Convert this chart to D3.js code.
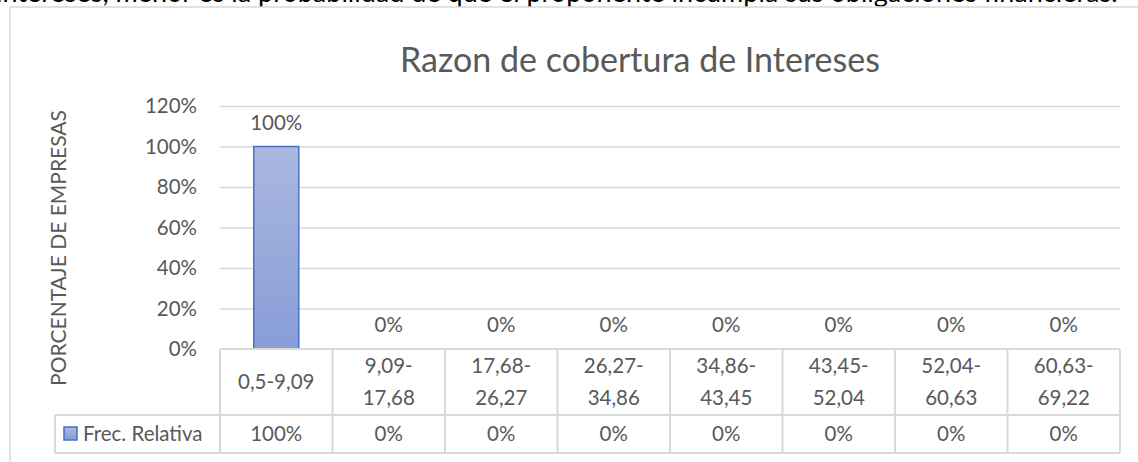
<!DOCTYPE html>
<html>
<head>
<meta charset="utf-8">
<script src="https://cdn.jsdelivr.net/npm/d3@7"></script>
<style>
  body { margin: 0; background: #fff; }
  svg { display: block; font-family: Lato, sans-serif; }
</style>
</head>
<body>
<script>
// data
var categories = ["0,5-9,09", "9,09-17,68", "17,68-26,27", "26,27-34,86",
                  "34,86-43,45", "43,45-52,04", "52,04-60,63", "60,63-69,22"];
var values = [1, 0, 0, 0, 0, 0, 0, 0];
var yTicks = [0, 0.2, 0.4, 0.6, 0.8, 1.0, 1.2];
var seriesName = "Frec. Relativa";
var chartTitle = "Razon de cobertura de Intereses";
var yTitle = "PORCENTAJE DE EMPRESAS";
var topText = "intereses, menor es la probabilidad de que el proponente incumpla sus obligaciones financieras.";

var W = 1138, H = 462;
var plot = {left: 220, right: 1120, top: 106, bottom: 349};
var rowCat = 66, rowLeg = 38, legLeft = 55;
var grey = "#595959", line = "#D9D9D9";

var svg = d3.select("body").append("svg")
    .attr("width", W)
    .attr("height", H);

// bar gradient
var grad = svg.append("defs").append("linearGradient")
    .attr("id", "barFill")
    .attr("x1", 0).attr("y1", 0).attr("x2", 0).attr("y2", 1);
grad.append("stop").attr("offset", "0%").attr("stop-color", "#AAB8DF");
grad.append("stop").attr("offset", "100%").attr("stop-color", "#889DD8");

// paragraph text cut at top of page
svg.append("text")
    .attr("x", -4)
    .attr("y", 2)
    .style("font-size", "27px")
    .style("fill", "#000")
    .text(topText);

// chart frame
svg.append("rect")
    .attr("x", 10).attr("y", 7)
    .attr("width", W + 20).attr("height", H + 20)
    .attr("fill", "none")
    .attr("stroke", line)
    .attr("stroke-width", 1.5);

// scales
var x = d3.scaleBand()
    .domain(categories)
    .range([plot.left, plot.right])
    .paddingInner(0).paddingOuter(0);

var y = d3.scaleLinear()
    .domain([0, 1.2])
    .range([plot.bottom, plot.top]);

var pct = d3.format(".0%");

// gridlines
svg.append("g")
    .attr("transform", "translate(" + plot.left + ",0)")
    .call(d3.axisLeft(y).tickValues(yTicks.slice(1)).tickSize(-(plot.right - plot.left)).tickFormat(""))
    .call(function(g) { g.select(".domain").remove(); })
    .selectAll("line")
    .attr("stroke", line)
    .attr("stroke-width", 1.5);

// y axis labels
svg.append("g")
    .attr("transform", "translate(" + (plot.left - 23) + ",0)")
    .call(d3.axisLeft(y).tickValues(yTicks).tickSize(0).tickFormat(pct))
    .call(function(g) { g.select(".domain").remove(); })
    .selectAll("text")
    .attr("x", 0)
    .style("font-family", "Lato, sans-serif")
    .style("font-size", "20.5px")
    .style("fill", grey);

// title
svg.append("text")
    .attr("x", 640)
    .attr("y", 72)
    .attr("text-anchor", "middle")
    .style("font-size", "34px")
    .style("fill", grey)
    .text(chartTitle);

// y axis title
svg.append("text")
    .attr("transform", "translate(66," + 248 + ") rotate(-90)")
    .attr("text-anchor", "middle")
    .style("font-size", "21px")
    .style("fill", grey)
    .text(yTitle);

// bars
var bw = x.bandwidth() * 0.4;
svg.append("g").selectAll("rect")
    .data(values)
    .enter().append("rect")
    .attr("x", function(d, i) { return x(categories[i]) + (x.bandwidth() - bw) / 2; })
    .attr("y", function(d) { return y(d); })
    .attr("width", bw)
    .attr("height", function(d) { return y(0) - y(d); })
    .attr("fill", "url(#barFill)")
    .attr("stroke", "#4472C4")
    .attr("stroke-width", 1.5)
    .style("display", function(d) { return d > 0 ? null : "none"; });

// data labels
svg.append("g").selectAll("text")
    .data(values)
    .enter().append("text")
    .attr("x", function(d, i) { return x(categories[i]) + x.bandwidth() / 2; })
    .attr("y", function(d) { return y(d) - 24; })
    .attr("dy", "0.35em")
    .attr("text-anchor", "middle")
    .style("font-size", "20.5px")
    .style("fill", grey)
    .text(function(d) { return pct(d); });

// data table
var tTop = plot.bottom, tMid = tTop + rowCat, tBot = tMid + rowLeg;
var table = svg.append("g")
    .attr("stroke", line)
    .attr("stroke-width", 2)
    .attr("fill", "none");

table.append("line").attr("x1", plot.left).attr("x2", plot.right).attr("y1", tTop).attr("y2", tTop);
table.append("line").attr("x1", legLeft).attr("x2", plot.right).attr("y1", tMid).attr("y2", tMid);
table.append("line").attr("x1", legLeft).attr("x2", plot.right).attr("y1", tBot).attr("y2", tBot);
table.append("line").attr("x1", legLeft).attr("x2", legLeft).attr("y1", tMid).attr("y2", tBot);
table.selectAll(".vline")
    .data(categories.concat(["end"]))
    .enter().append("line")
    .attr("class", "vline")
    .attr("x1", function(d, i) { return i < categories.length ? x(d) : plot.right; })
    .attr("x2", function(d, i) { return i < categories.length ? x(d) : plot.right; })
    .attr("y1", tTop)
    .attr("y2", tBot);

// category labels (wrapped after the hyphen when long)
var catText = svg.append("g").selectAll("text")
    .data(categories)
    .enter().append("text")
    .attr("x", function(d) { return x(d) + x.bandwidth() / 2; })
    .attr("y", tTop + rowCat / 2)
    .attr("text-anchor", "middle")
    .style("font-size", "20.5px")
    .style("fill", grey);

catText.each(function(d) {
  var t = d3.select(this);
  var parts = d.length > 9 ? [d.slice(0, d.indexOf("-") + 1), d.slice(d.indexOf("-") + 1)] : [d];
  parts.forEach(function(p, j) {
    t.append("tspan")
      .attr("x", x(d) + x.bandwidth() / 2)
      .attr("dy", j === 0 ? (parts.length > 1 ? "-0.42em" : "0.35em") : "1.55em")
      .text(p);
  });
});

// legend row values
svg.append("g").selectAll("text")
    .data(values)
    .enter().append("text")
    .attr("x", function(d, i) { return x(categories[i]) + x.bandwidth() / 2; })
    .attr("y", tMid + rowLeg / 2)
    .attr("dy", "0.35em")
    .attr("text-anchor", "middle")
    .style("font-size", "20.5px")
    .style("fill", grey)
    .text(function(d) { return pct(d); });

// legend key
svg.append("rect")
    .attr("x", 64).attr("y", tMid + 12)
    .attr("width", 13).attr("height", 13)
    .attr("fill", "url(#barFill)")
    .attr("stroke", "#4472C4")
    .attr("stroke-width", 1.5);

svg.append("text")
    .attr("x", 83)
    .attr("y", tMid + rowLeg / 2)
    .attr("dy", "0.35em")
    .style("font-size", "20.5px")
    .style("fill", grey)
    .text(seriesName);
</script>
</body>
</html>
